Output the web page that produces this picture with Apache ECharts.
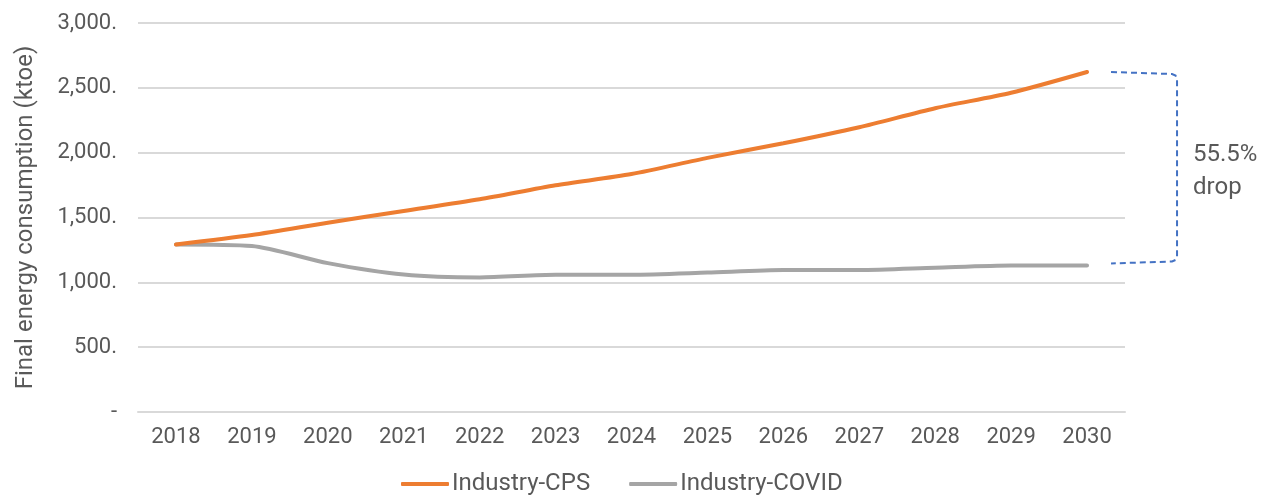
<!DOCTYPE html>
<html>
<head>
<meta charset="utf-8">
<script src="https://cdn.jsdelivr.net/npm/echarts@6/dist/echarts.min.js"></script>
<style>
  html, body { margin: 0; padding: 0; background: #fff; }
  #chart { width: 1271px; height: 503px; }
</style>
</head>
<body>
<div id="chart"></div>
<script>
// data
var years = ['2018', '2019', '2020', '2021', '2022', '2023', '2024', '2025', '2026', '2027', '2028', '2029', '2030'];
var cps = [1292, 1365, 1460, 1550, 1640, 1748, 1835, 1960, 2072, 2196, 2343, 2462, 2622];
var covid = [1292, 1280, 1148, 1060, 1038, 1058, 1058, 1075, 1095, 1095, 1113, 1130, 1130];
var yTicks = [0, 500, 1000, 1500, 2000, 2500, 3000];
var yTickLabels = ['-', '500.', '1,000.', '1,500.', '2,000.', '2,500.', '3,000.'];
var dropLabel = '55.5%\ndrop';

var textColor = '#595959';
var font = 'Roboto';

var chart = echarts.init(document.getElementById('chart'));

chart.setOption({
  backgroundColor: '#fff',
  animation: false,
  textStyle: { fontFamily: font },
  grid: { left: 138, right: 146, top: 23, bottom: 91 },
  legend: {
    bottom: 2,
    left: 396,
    icon: 'roundRect',
    itemWidth: 48,
    itemHeight: 4,
    itemGap: 39,
    textStyle: { color: textColor, fontSize: 24, fontFamily: font, padding: [0, 0, 0, -2] },
    data: ['Industry-CPS', 'Industry-COVID']
  },
  xAxis: {
    type: 'category',
    data: years,
    boundaryGap: true,
    axisLine: { show: true, lineStyle: { color: '#D9D9D9', width: 2 } },
    axisTick: { show: false },
    axisLabel: { color: textColor, fontSize: 22, margin: 14, fontFamily: font }
  },
  yAxis: {
    type: 'value',
    min: 0,
    max: 3000,
    interval: 500,
    name: 'Final energy consumption (ktoe)',
    nameLocation: 'middle',
    nameGap: 100,
    nameTextStyle: { color: textColor, fontSize: 24, fontFamily: font },
    axisLine: { show: false },
    axisTick: { show: false },
    splitLine: { lineStyle: { color: '#D9D9D9', width: 2 } },
    axisLabel: {
      color: textColor,
      fontSize: 22,
      margin: 21,
      fontFamily: font,
      formatter: function (v) {
        var i = yTicks.indexOf(v);
        return i >= 0 ? yTickLabels[i] : '';
      }
    }
  },
  series: [
    {
      name: 'Industry-CPS',
      type: 'line',
      data: cps,
      symbol: 'none',
      smooth: 0.25,
      lineStyle: { color: '#ED7D31', width: 4, cap: 'round' },
      itemStyle: { color: '#ED7D31' },
      z: 3
    },
    {
      name: 'Industry-COVID',
      type: 'line',
      data: covid,
      symbol: 'none',
      smooth: 0.25,
      lineStyle: { color: '#A5A5A5', width: 4, cap: 'round' },
      itemStyle: { color: '#A5A5A5' },
      z: 2
    }
  ]
});

// bracket showing the gap at the final year, placed from the data
var last = years.length - 1;
var pTop = chart.convertToPixel({ seriesIndex: 0 }, [last, cps[last]]);
var pBot = chart.convertToPixel({ seriesIndex: 1 }, [last, covid[last]]);
var x1 = pTop[0] + 24, x2 = pTop[0] + 90, r = 5;
var yT = pTop[1], yB = pBot[1] - 2;
var bracket = [
  [x1, yT],
  [x2 - r, yT + 2],
  [x2 - 1.5, yT + 3.5],
  [x2, yT + 2 + r],
  [x2, yB - 2 - r],
  [x2 - 1.5, yB - 3.5],
  [x2 - r, yB - 2],
  [x1, yB]
];

chart.setOption({
  graphic: [
    {
      type: 'polyline',
      shape: { points: bracket },
      style: { fill: null, stroke: '#4472C4', lineWidth: 2, lineDash: [6, 4] }
    },
    {
      type: 'text',
      x: x2 + 16,
      y: (yT + yB) / 2 + 4,
      style: {
        text: dropLabel,
        fill: textColor,
        fontSize: 24,
        fontFamily: font,
        lineHeight: 33,
        verticalAlign: 'middle',
        align: 'left'
      }
    }
  ]
});
</script>
</body>
</html>
